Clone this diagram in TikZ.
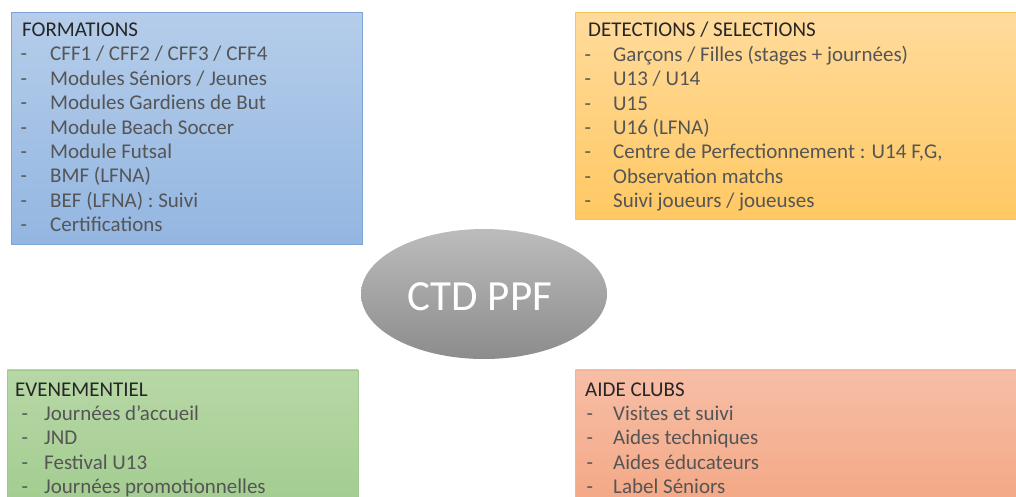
\documentclass[tikz,border=0pt]{standalone}
\usepackage{fontspec}
\setmainfont{Carlito}
\usetikzlibrary{shapes.geometric}
\definecolor{titlec}{HTML}{262626}
\definecolor{itemc}{HTML}{555555}
\definecolor{bluetop}{HTML}{B5CDEA}
\definecolor{bluebot}{HTML}{93B6E1}
\definecolor{blueline}{HTML}{7CA4D6}
\definecolor{orgtop}{HTML}{FFDB9C}
\definecolor{orgbot}{HTML}{FFC862}
\definecolor{orgline}{HTML}{F8C654}
\definecolor{grntop}{HTML}{B7D8A6}
\definecolor{grnbot}{HTML}{A2CC8F}
\definecolor{grnline}{HTML}{A0CA8C}
\definecolor{redtop}{HTML}{F6BEA6}
\definecolor{redbot}{HTML}{F4A784}
\definecolor{redline}{HTML}{F2B197}
\definecolor{elltop}{HTML}{BCBCBC}
\definecolor{ellbot}{HTML}{8C8C8C}
\tikzset{
  panel/.style={rectangle, inner sep=0pt, anchor=north west, line width=0.9pt},
  ttl/.style={anchor=base west, inner sep=0pt, text=titlec, font=\fontsize{21}{24}\selectfont},
  dsh/.style={anchor=base west, inner sep=0pt, text=itemc, font=\fontsize{21}{24}\selectfont},
  itm/.style={anchor=base west, inner sep=0pt, text=itemc, font=\fontsize{21}{24}\selectfont},
}
\begin{document}
\begin{tikzpicture}[x=1pt,y=-1pt]
\useasboundingbox (0,0) rectangle (1016,497);
% panels
\node[panel, draw=blueline, top color=bluetop, bottom color=bluebot, minimum width=351pt, minimum height=232pt] (form) at (11,12) {};
\node[panel, draw=orgline, top color=orgtop, bottom color=orgbot, minimum width=441pt, minimum height=207pt] (dete) at (575,12) {};
\node[panel, draw=grnline, top color=grntop, bottom color=grnbot, minimum width=351pt, minimum height=140pt] (even) at (7,369.5) {};
\node[panel, draw=redline, top color=redtop, bottom color=redbot, minimum width=441pt, minimum height=140pt] (aide) at (575,369.5) {};
% centre
\node[ellipse, minimum width=246pt, minimum height=130pt, inner sep=0pt, top color=elltop, bottom color=ellbot] (ctd) at (484,294) {};
\node[inner sep=0pt, text=white, font=\fontsize{43}{48}\selectfont, anchor=base] (ctdt) at (480,310) {CTD PPF};
% FORMATIONS
\node[ttl] (formt) at (22,36.5) {FORMATIONS};
\foreach \t [count=\i] in {{CFF1 / CFF2 / CFF3 / CFF4},{Modules Séniors / Jeunes},{Modules Gardiens de But},{Module Beach Soccer},{Module Futsal},{BMF (LFNA)},{BEF (LFNA) : Suivi},{Certifications}}{
  \node[dsh] (fd\i) at (20.5,36.5+\i*24.4) {-};
  \node[itm] (fi\i) at (50,36.5+\i*24.4) {\t};
}
% DETECTIONS
\node[ttl] (detet) at (588,37) {DETECTIONS / SELECTIONS};
\foreach \t [count=\i] in {{Garçons / Filles (stages + journées)},{U13 / U14},{U15},{U16 (LFNA)},{Centre de Perfectionnement : U14 F,G,},{Observation matchs},{Suivi joueurs / joueuses}}{
  \node[dsh] (dd\i) at (584.5,37+\i*24.4) {-};
  \node[itm] (di\i) at (613,37+\i*24.4) {\t};
}
% EVENEMENTIEL
\node[ttl] (event) at (15,396) {EVENEMENTIEL};
\foreach \t [count=\i] in {{Journées d'accueil},{JND},{Festival U13},{Journées promotionnelles}}{
  \node[dsh] (ed\i) at (21.5,396+\i*24.4) {-};
  \node[itm] (ei\i) at (44,396+\i*24.4) {\t};
}
% AIDE CLUBS
\node[ttl] (aidet) at (585,396) {AIDE CLUBS};
\foreach \t [count=\i] in {{Visites et suivi},{Aides techniques},{Aides éducateurs},{Label Séniors}}{
  \node[dsh] (ad\i) at (586.5,396+\i*24.4) {-};
  \node[itm] (ai\i) at (613,396+\i*24.4) {\t};
}
\end{tikzpicture}
\end{document}
